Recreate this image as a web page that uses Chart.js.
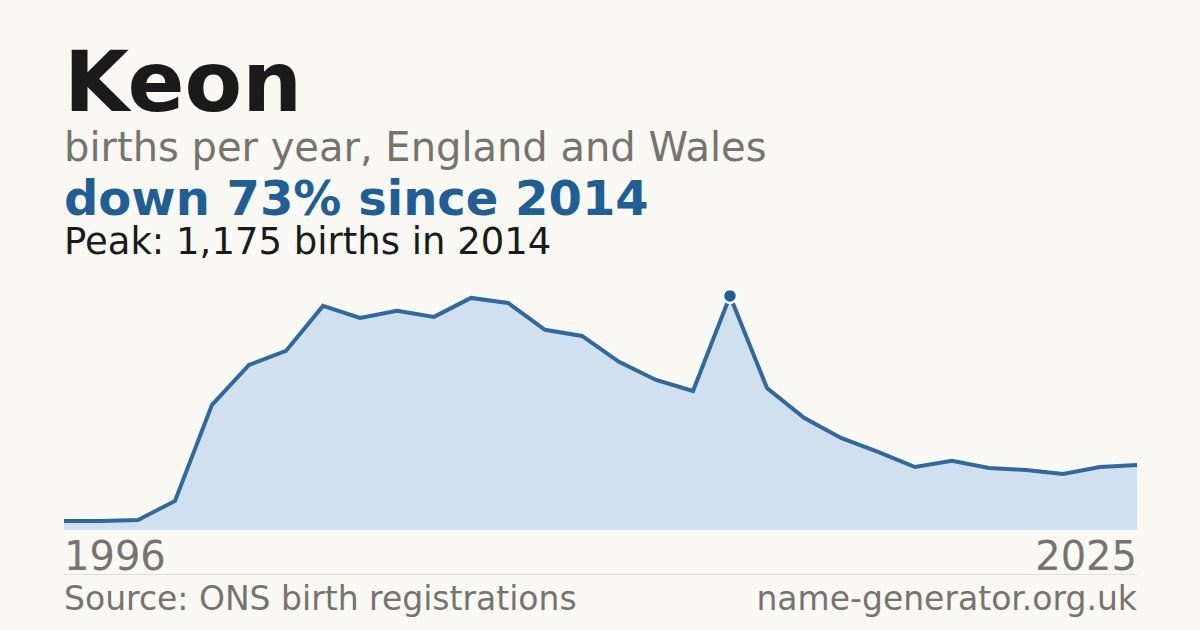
<!DOCTYPE html>
<html>
<head>
<meta charset="utf-8">
<script src="https://cdn.jsdelivr.net/npm/chart.js@4"></script>
<style>
  body { margin: 0; background: #faf9f4; font-family: 'DejaVu Sans', sans-serif; }
  #page { position: relative; width: 1200px; height: 630px; overflow: hidden; }
  .t { position: absolute; left: 64px; white-space: nowrap; line-height: 1; }
  #title { top: 40px; font-size: 84px; font-weight: bold; color: #1a1a1a; }
  #sub { top: 127px; font-size: 40px; color: #77746f; }
  #change { top: 174px; font-size: 48px; font-weight: bold; color: #1f5f96; }
  #peak { top: 223px; font-size: 37px; color: #1a1a1a; }
  #wrap { position: absolute; left: 64px; top: 280px; width: 1073px; height: 250px; }
  .yr { position: absolute; top: 536px; font-size: 40px; color: #77746f; line-height: 1; }
  #rule { position: absolute; left: 64px; width: 1073px; top: 574px; border-top: 1px solid #e2dfd8; }
  .foot { position: absolute; top: 582px; font-size: 33px; color: #77746f; line-height: 1; }
</style>
</head>
<body>
<div id="page">
  <div class="t" id="title">Keon</div>
  <div class="t" id="sub">births per year, England and Wales</div>
  <div class="t" id="change">down 73% since 2014</div>
  <div class="t" id="peak">Peak: 1,175 births in 2014</div>
  <div id="wrap"><canvas id="chart"></canvas></div>
  <div class="yr" style="left:64px">1996</div>
  <div class="yr" style="right:63px">2025</div>
  <div id="rule"></div>
  <div class="foot" style="left:64px">Source: ONS birth registrations</div>
  <div class="foot" style="right:63px">name-generator.org.uk</div>
</div>
<script>
const years = [];
for (let y = 1996; y <= 2025; y++) years.push(String(y));
const births = [45, 45, 50, 146, 628, 829, 899, 1125, 1065, 1100, 1070, 1165, 1140, 1005, 974,
                844, 753, 698, 1175, 713, 563, 462, 392, 316, 347, 311, 301, 281, 316, 326];
const peakYear = '2014';

new Chart(document.getElementById('chart'), {
    type: 'line',
    data: {
        labels: years,
        datasets: [{
            data: births,
            borderColor: '#2e6a9e',
            borderWidth: 4,
            backgroundColor: '#d0e0ef',
            fill: 'origin',
            tension: 0,
            clip: false,
            pointRadius: (ctx) => years[ctx.dataIndex] === peakYear ? 7 : 0,
            pointBackgroundColor: '#1f5f96',
            pointBorderColor: '#ffffff',
            pointBorderWidth: 2.5
        }]
    },
    options: {
        responsive: true,
        maintainAspectRatio: false,
        animation: false,
        layout: { padding: 0 },
        plugins: { legend: { display: false }, tooltip: { enabled: false } },
        scales: {
            x: { display: false, offset: false },
            y: { display: false, min: 0, max: 1255 }
        }
    }
});
</script>
</body>
</html>
